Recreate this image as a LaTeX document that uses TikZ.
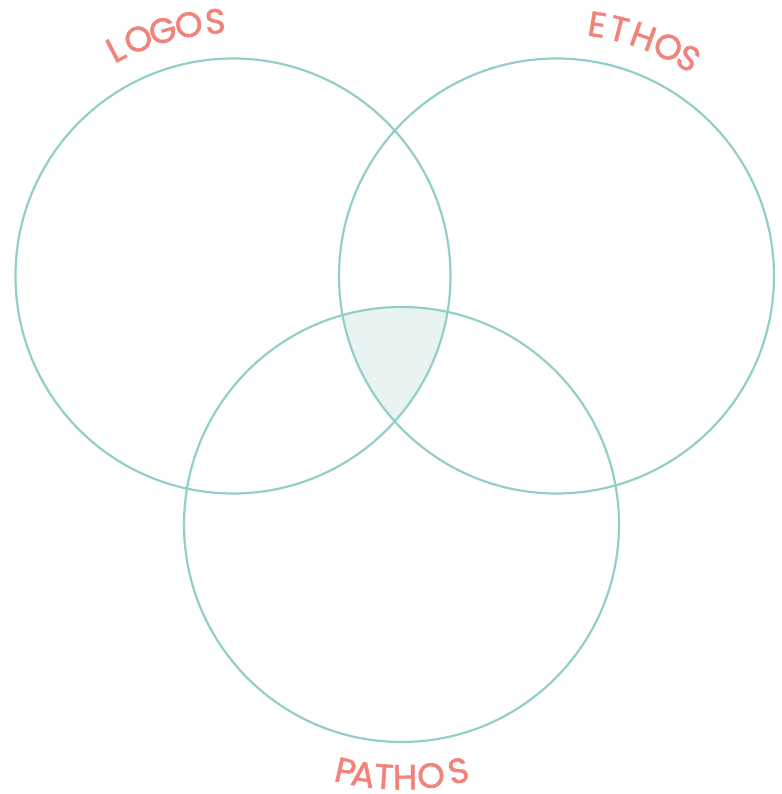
\documentclass[tikz,border=0pt]{standalone}
\usepackage{fontspec}
\setmainfont{Poppins}
\newfontfamily\labelfont{Poppins}[FakeBold=1.5]
\definecolor{vennline}{HTML}{92CECA}
\definecolor{vennfill}{HTML}{E9F4F2}
\definecolor{vennlabel}{HTML}{F2837A}

\tikzset{
    ring/.style={draw=vennline, line width=2.2pt},
    letter/.style={text=vennlabel, inner sep=0pt, anchor=base,
        font=\labelfont\fontsize{35}{37}\selectfont}
}

\begin{document}
\begin{tikzpicture}[x=1pt, y=1pt]
    \useasboundingbox (0, 0) rectangle (781, 794);
    \coordinate (logos) at (233, 518);
    \coordinate (ethos) at (556.5, 518);
    \coordinate (pathos) at (401.5, 269.5);

    \begin{scope}
        \clip (logos) circle (217.5);
        \clip (ethos) circle (217.5);
        \fill[vennfill] (pathos) circle (217.5);
    \end{scope}

    \draw[ring] (logos) circle (217.5);
    \draw[ring] (ethos) circle (217.5);
    \draw[ring] (pathos) circle (217.5);

    % labels, one letter at a time round the rings
    \foreach \ch/\ang [count=\i] in {L/117.4, O/111.8, G/106.0, O/100.0, S/94.0}
        \node[letter, rotate=\ang-90] (logos\i) at ([shift={(\ang:243)}]logos) {\ch};
    \foreach \ch/\ang [count=\i] in {E/80.8, T/75.8, H/70.1, O/64.0, S/58.8}
        \node[letter, rotate=\ang-90] (ethos\i) at ([shift={(\ang:242.5)}]ethos) {\ch};
    \foreach \ch/\ang [count=\i] in {P/257.2, A/261.3, T/266.0, H/270.8, O/276.7, S/283.0}
        \node[letter, rotate=\ang+90] (pathos\i) at ([shift={(\ang:265)}]pathos) {\ch};
\end{tikzpicture}
\end{document}
